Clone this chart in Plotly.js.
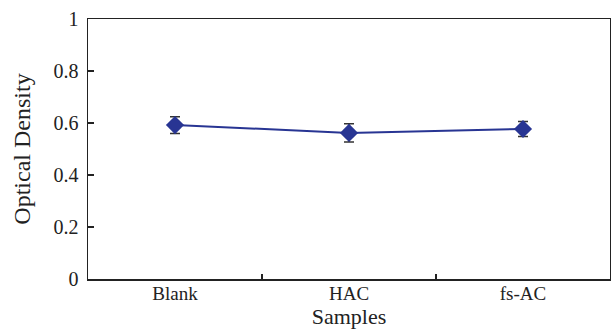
<!DOCTYPE html>
<html>
<head>
<meta charset="utf-8">
<script src="https://cdn.plot.ly/plotly-3.0.1.min.js"></script>
<style>html,body{margin:0;padding:0;background:#fff;}#chart{width:611px;height:334px;}</style>
</head>
<body>
<div id="chart"></div>
<script>
var categories = ["Blank", "HAC", "fs-AC"];
var density = [0.592, 0.562, 0.577];
var errors = [0.032, 0.035, 0.029];
var yTicks = [0, 0.2, 0.4, 0.6, 0.8, 1];
var yTickText = ["0", "0.2", "0.4", "0.6", "0.8", "1"];

var trace = {
  x: categories,
  y: density,
  type: "scatter",
  mode: "lines+markers",
  line: {color: "#283593", width: 2},
  marker: {symbol: "diamond", size: 14, color: "#283593"},
  error_y: {type: "data", array: errors, visible: true, color: "#333333", thickness: 1.5, width: 5}
};

var layout = {
  width: 611, height: 334,
  margin: {l: 88, r: 1, t: 19, b: 55},
  paper_bgcolor: "#fff", plot_bgcolor: "#fff",
  showlegend: false,
  font: {family: "Liberation Serif, Times New Roman, serif", color: "#222"},
  xaxis: {
    type: "category",
    tickson: "boundaries",
    ticks: "inside", ticklen: 5, tickwidth: 1.2, tickcolor: "#222",
    showline: true, linecolor: "#222", linewidth: 1.5, mirror: true,
    showgrid: false, zeroline: false,
    range: [-0.5, 2.5],
    tickfont: {size: 19},
    ticklabelstandoff: -3,
    title: {text: "Samples", font: {size: 22}, standoff: 0}
  },
  yaxis: {
    range: [0, 1],
    tickvals: yTicks, ticktext: yTickText,
    ticks: "inside", ticklen: 6, tickwidth: 1.2, tickcolor: "#222",
    showline: true, linecolor: "#222", linewidth: 1.5, mirror: true,
    showgrid: false, zeroline: false,
    tickfont: {size: 20},
    ticklabelstandoff: 4,
    title: {text: "Optical Density", font: {size: 24}, standoff: 16}
  }
};

Plotly.newPlot("chart", [trace], layout, {displayModeBar: false, staticPlot: true});
</script>
</body>
</html>
